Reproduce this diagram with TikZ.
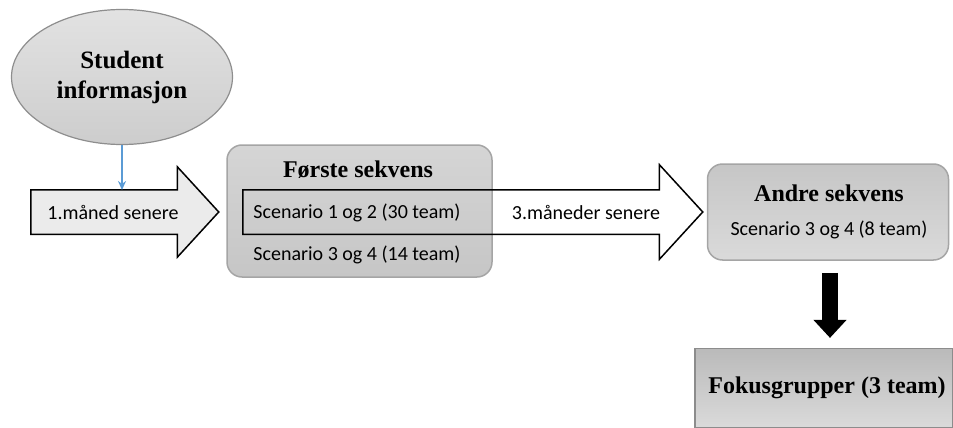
\documentclass[tikz,border=0pt]{standalone}
\usepackage{fontspec}
\setmainfont{Liberation Serif}
\newfontfamily\calibri{Carlito}
\usetikzlibrary{shapes.geometric,shapes.arrows,arrows.meta}

\definecolor{boxline}{HTML}{A5A5A5}
\definecolor{infoblue}{HTML}{5B9BD5}

\begin{document}
\begin{tikzpicture}[x=1pt,y=-1pt,
  headtext/.style={font=\bfseries\fontsize{24}{28}\selectfont},
  bodytext/.style={font=\calibri\fontsize{20}{24}\selectfont},
  bigarrow/.style={draw=black, line width=1.5pt, single arrow, inner sep=0pt,
    inner ysep=21.5pt, single arrow tip angle=95, single arrow head indent=0pt},
  seqbox/.style={draw=boxline, line width=1.5pt, rounded corners=15pt, inner sep=0pt}]

\useasboundingbox (0,0) rectangle (953,428);

% student info
\node[ellipse, draw={rgb,255:red,142;green,142;blue,142}, line width=1.2pt,
  top color={rgb,255:red,226;green,226;blue,226}, bottom color={rgb,255:red,205;green,205;blue,205},
  minimum width=221pt, minimum height=135pt, inner sep=0pt,
  align=center, font=\bfseries\fontsize{25}{30}\selectfont] (info) at (122,77) {Student\\informasjon};

% first arrow
\node[bigarrow, fill={rgb,255:red,235;green,235;blue,235}, single arrow head extend=23pt,
  minimum height=188pt, anchor=tail] (arrowA) at (30,212) {};
\node[bodytext] (arrowAtext) at (113,212) {1.måned senere};

\coordinate (infoend) at (122,190);
\draw[infoblue, line width=1.6pt, -{Stealth[length=9pt,width=8pt]}] (info.south) -- (infoend);

% first sequence
\node[seqbox, top color={rgb,255:red,213;green,213;blue,213}, bottom color={rgb,255:red,198;green,198;blue,198},
  minimum width=265pt, minimum height=132pt] (first) at (359.5,211) {};
\node[headtext] (firsttitle) at (358,170) {Første sekvens};
\node[bodytext] (firstA) at (357,213) {Scenario 1 og 2 (30 team)};
\node[bodytext] (firstB) at (357,255) {Scenario 3 og 4 (14 team)};

% second arrow
\node[bigarrow, single arrow head extend=25pt, minimum height=460pt, anchor=tail] (arrowB) at (242,212) {};
\node[bodytext] (arrowBtext) at (586,212) {3.måneder senere};

% second sequence
\node[seqbox, top color={rgb,255:red,198;green,198;blue,198}, middle color={rgb,255:red,186;green,186;blue,186},
  bottom color={rgb,255:red,218;green,218;blue,218},
  minimum width=241pt, minimum height=96pt] (second) at (828,212) {};
\node[headtext] (secondtitle) at (829,193) {Andre sekvens};
\node[bodytext] (secondA) at (829,230) {Scenario 3 og 4 (8 team)};

% focus groups
\node[draw={rgb,255:red,140;green,140;blue,140}, line width=1.2pt,
  top color={rgb,255:red,186;green,186;blue,186}, bottom color={rgb,255:red,218;green,218;blue,218},
  minimum width=258pt, minimum height=79pt, inner sep=0pt] (focus) at (824,388) {};
\node[headtext] (focustext) at (827,388) {Fokusgrupper (3 team)};

\draw[line width=16pt, -{Triangle[length=18pt,width=32pt]}, shorten <=12pt, shorten >=10pt]
  (second.south -| 830,0) -- (focus.north -| 830,0);

\end{tikzpicture}
\end{document}
